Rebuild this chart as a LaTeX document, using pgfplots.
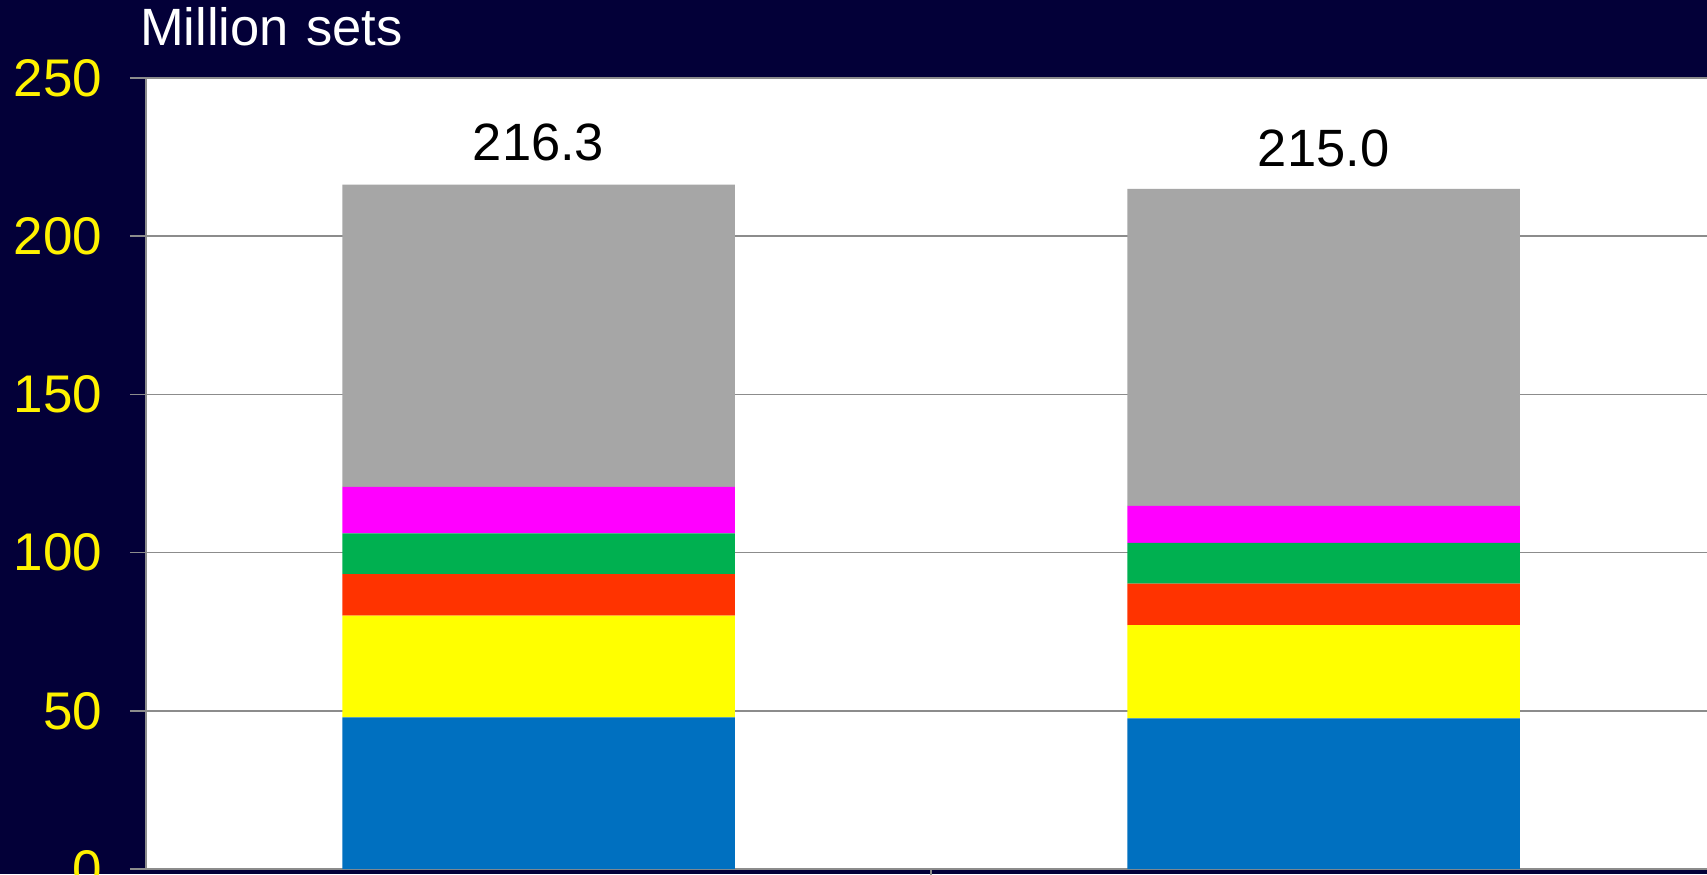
\documentclass[border=0pt]{standalone}
\usepackage{fontspec}
\setmainfont{Liberation Sans}
\usepackage{pgfplots}
\pgfplotsset{compat=1.18}

\definecolor{bgnavy}{HTML}{030038}
\definecolor{sblue}{HTML}{0070C0}
\definecolor{syellow}{HTML}{FFFF00}
\definecolor{sred}{HTML}{FF3300}
\definecolor{sgreen}{HTML}{00B050}
\definecolor{smagenta}{HTML}{FF00FF}
\definecolor{sgray}{HTML}{A6A6A6}
\definecolor{linegray}{HTML}{8C8C8C}

\begin{document}
% picture is 341.4pt x 174.8pt, i.e. 0.2pt per pixel of the reference
\begin{tikzpicture}
\useasboundingbox[fill=bgnavy] (0pt,0pt) rectangle (341.4pt,174.8pt);
\begin{scope}
\clip (0pt,0pt) rectangle (341.4pt,174.8pt);
\begin{axis}[
    at={(29.2pt,1pt)}, anchor=south west,
    scale only axis,
    width=312.2pt, height=158.2pt,
    xmin=0, xmax=1.9885,
    ymin=0, ymax=250,
    axis background/.style={fill=white},
    axis x line*=bottom, axis y line*=left,
    axis line style={linegray, line width=0.4pt},
    xtick={1}, xticklabels={},
    ytick={0,50,...,250},
    ymajorgrids,
    grid style={linegray, line width=0.3pt},
    tick align=outside,
    major tick length=3.2pt,
    tick style={linegray, line width=0.3pt},
    /pgf/number format/assume math mode=true,
    yticklabel style={text=yellow, font=\fontsize{10.6}{12}\selectfont,
        anchor=east, inner sep=0pt, xshift=-5.4pt},
    ybar stacked,
    bar width=0.5,
]
\addplot[draw=none, fill=sblue]    coordinates {(0.5,47.9) (1.5,47.6)};
\addplot[draw=none, fill=syellow]  coordinates {(0.5,32.2) (1.5,29.5)};
\addplot[draw=none, fill=sred]     coordinates {(0.5,13.1) (1.5,13.1)};
\addplot[draw=none, fill=sgreen]   coordinates {(0.5,12.9) (1.5,12.9)};
\addplot[draw=none, fill=smagenta] coordinates {(0.5,14.7) (1.5,11.7)};
\addplot[draw=none, fill=sgray]    coordinates {(0.5,95.5) (1.5,100.2)};
\node[anchor=base, font=\fontsize{10.5}{12}\selectfont, inner sep=0pt]
    at (axis cs:0.5,223.8) {216.3};
\node[anchor=base, font=\fontsize{10.5}{12}\selectfont, inner sep=0pt]
    at (axis cs:1.5,222.0) {215.0};
\end{axis}
\end{scope}
\node[anchor=base west, text=white, inner sep=0pt,
    font=\fontsize{10.5}{12}\selectfont] at (27.8pt,165.8pt) {Million\hspace{0.6pt} sets};
\end{tikzpicture}
\end{document}
